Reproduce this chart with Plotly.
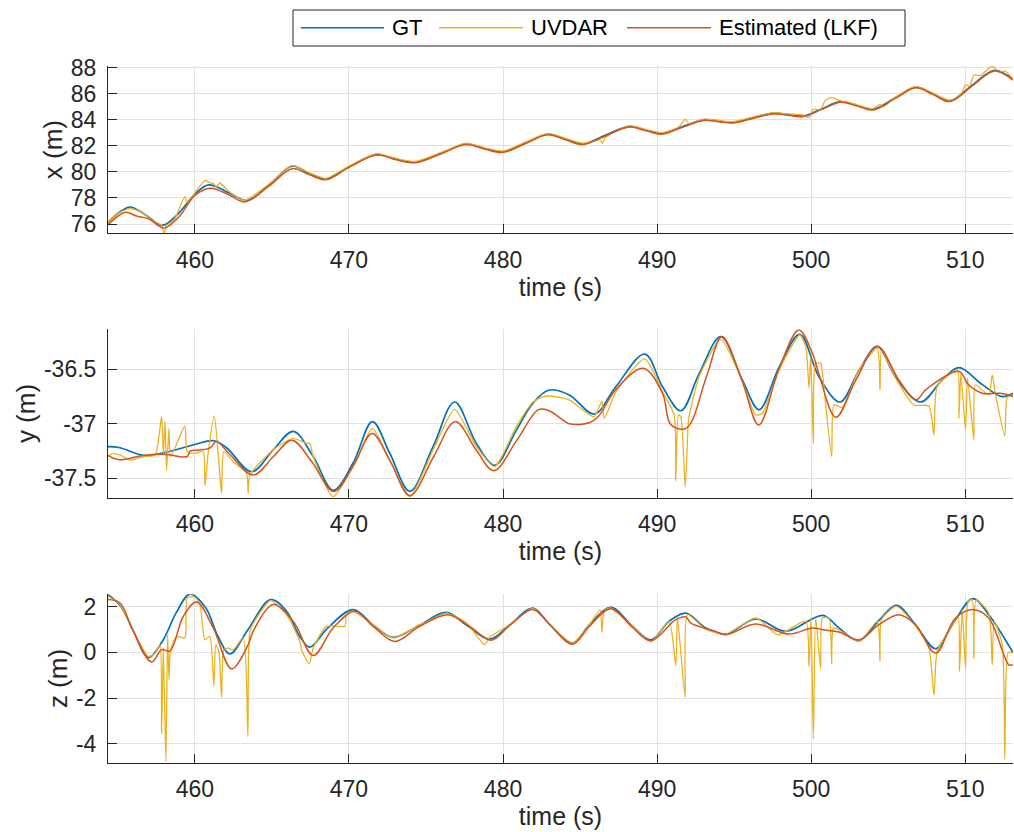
import plotly.graph_objects as go
from plotly.subplots import make_subplots

# ---------------- x (m) ----------------
t_gt_x = [454.36, 455.1, 455.8, 456.8, 457.9, 459.0, 460.0, 460.9, 462.2, 463.4, 464.9, 466.3, 467.4, 468.5,
          470.0, 471.8, 473.0, 474.3, 476.0, 477.6, 478.8, 480.0, 481.5, 482.9, 484.1, 485.2, 486.7, 488.2,
          489.3, 490.3, 491.7, 493.0, 494.0, 494.9, 496.2, 497.5, 498.5, 499.5, 500.7, 501.9, 503.0, 504.0,
          505.4, 506.8, 507.9, 509.0, 510.5, 511.9, 513.1]
gt_x = [76.1, 76.9, 77.3, 76.7, 75.9, 76.9, 78.3, 79.0, 78.4, 77.8, 79.1, 80.45, 79.9, 79.45,
        80.4, 81.35, 81.0, 80.75, 81.45, 82.15, 81.8, 81.55, 82.25, 82.9, 82.5, 82.15, 82.85, 83.5,
        83.2, 82.95, 83.5, 84.0, 83.9, 83.8, 84.15, 84.5, 84.4, 84.3, 84.85, 85.4, 85.1, 84.8,
        85.65, 86.5, 86.0, 85.45, 86.7, 87.8, 87.1]

t_uv_x = [454.36, 455.0, 455.8, 456.6, 457.2, 457.84, 458.0, 458.2, 458.5, 458.7, 459.35, 459.5, 460.0,
          460.65, 460.9, 461.2, 461.4, 461.6, 462.2, 463.2, 463.5, 464.9, 466.3, 467.4, 468.5, 470.0,
          471.8, 473.0, 474.3, 476.0, 477.6, 478.8, 480.0, 481.5, 482.9, 484.1, 485.2, 486.3, 486.46,
          486.6, 488.2, 489.3, 490.3, 491.4, 491.82, 492.1, 493.0, 494.0, 494.9, 496.2, 497.5, 498.5,
          499.5, 499.86, 500.14, 500.62, 500.9, 501.33, 501.9, 503.0, 504.0, 504.47, 504.7, 505.4,
          506.8, 507.9, 509.0, 509.7, 510.02, 510.3, 510.56, 511.0, 511.75, 512.2, 512.57, 513.1]
uv_x = [76.05, 76.8, 77.2, 76.85, 76.3, 75.9, 75.3, 75.95, 76.15, 76.4, 78.1, 77.6, 78.4,
        79.35, 79.2, 79.1, 78.85, 79.15, 78.5, 77.8, 77.95, 79.15, 80.5, 79.95, 79.5, 80.45,
        81.4, 81.05, 80.8, 81.5, 82.2, 81.85, 81.6, 82.3, 82.95, 82.55, 82.2, 82.45, 82.2,
        82.6, 83.55, 83.25, 83.0, 83.45, 84.04, 83.7, 84.05, 83.95, 83.85, 84.2, 84.55, 84.45,
        84.35, 84.17, 84.81, 84.8, 85.47, 85.7, 85.45, 85.15, 84.85, 85.19, 85.0, 85.7,
        86.55, 86.05, 85.5, 85.9, 86.67, 86.6, 87.44, 87.4, 88.13, 87.65, 87.75, 87.15]

t_est_x = [454.36, 455.5, 456.2, 457.0, 458.0, 459.0, 460.0, 461.0, 462.2, 463.2, 464.8, 466.3, 467.4, 468.5,
           470.0, 471.8, 473.0, 474.3, 476.0, 477.6, 478.8, 480.0, 481.5, 482.9, 484.1, 485.2, 486.7, 488.2,
           489.3, 490.3, 491.7, 493.0, 494.0, 494.9, 496.2, 497.5, 498.5, 499.5, 500.7, 501.9, 503.0, 504.0,
           505.4, 506.8, 507.9, 509.0, 510.5, 511.9, 513.1]
est_x = [75.95, 76.9, 76.62, 76.4, 75.7, 76.6, 78.2, 78.75, 78.25, 77.7, 78.9, 80.25, 79.8, 79.4,
         80.35, 81.3, 80.95, 80.7, 81.4, 82.1, 81.75, 81.5, 82.2, 82.85, 82.45, 82.1, 82.8, 83.45,
         83.15, 82.9, 83.45, 83.95, 83.85, 83.75, 84.1, 84.45, 84.35, 84.25, 84.8, 85.35, 85.05, 84.75,
         85.6, 86.45, 85.95, 85.4, 86.65, 87.75, 87.05]

# ---------------- y (m) ----------------
t_gt_y = [454.36, 455.14, 456.65, 458.16, 460.0, 461.19, 462.06, 463.68, 465.08, 466.38, 467.68, 468.97,
          470.27, 471.52, 472.65, 473.95, 475.46, 476.86, 478.27, 479.46, 480.86, 481.94, 483.0, 484.3,
          485.92, 487.32, 489.2, 490.35, 491.54, 492.73, 494.13, 495.54, 496.62, 497.92, 499.26, 500.51,
          501.87, 503.1, 504.29, 505.48, 507.1, 508.5, 509.59, 511.1, 512.4, 513.09]
gt_y = [-37.21, -37.22, -37.29, -37.26, -37.19, -37.155, -37.22, -37.44, -37.24, -37.07, -37.3, -37.61,
        -37.36, -36.98, -37.27, -37.62, -37.21, -36.80, -37.18, -37.38, -37.06, -36.81, -36.69, -36.735,
        -36.91, -36.66, -36.36, -36.66, -36.88, -36.54, -36.2, -36.6, -36.87, -36.48, -36.18, -36.57,
        -36.80, -36.51, -36.29, -36.57, -36.80, -36.6, -36.485, -36.64, -36.75, -36.72]

t_uv_y = [454.36, 454.71, 455.14, 455.79, 456.65, 457.41, 457.84, 457.95, 458.06, 458.16, 458.32, 458.42,
          459.35, 459.5, 460.0, 460.54, 460.65, 460.87, 461.26, 461.56, 461.73, 461.88, 462.49, 463.35,
          463.46, 463.57, 465.08, 466.38, 467.24, 467.46, 467.68, 468.97, 470.27, 471.52, 472.65, 473.95,
          475.46, 476.86, 478.27, 479.46, 480.86, 481.94, 482.59, 483.0, 484.3, 485.16, 485.92, 486.42,
          486.57, 487.32, 489.2, 490.35, 491.11, 491.21, 491.39, 491.54, 491.82, 492.04, 492.19, 492.73,
          494.13, 495.54, 496.4, 496.83, 497.92, 499.26, 499.65, 499.86, 499.97, 500.14, 500.29, 500.62,
          500.73, 501.33, 501.48, 502.02, 503.1, 504.29, 504.47, 504.57, 505.48, 506.67, 507.64, 507.97,
          508.18, 509.48, 509.59, 509.72, 510.02, 510.15, 510.56, 510.67, 511.53, 511.75, 511.97, 512.57,
          512.72, 513.09]
uv_y = [-37.295, -37.271, -37.286, -37.332, -37.301, -37.286, -36.934, -37.286, -36.98, -37.424, -37.041, -37.301,
        -37.02, -37.255, -37.271, -37.255, -37.57, -37.255, -36.928, -37.362, -37.638, -37.255, -37.347, -37.454,
        -37.638, -37.469, -37.24, -37.133, -37.179, -37.179, -37.301, -37.668, -37.393, -37.041, -37.332, -37.668,
        -37.24, -36.867, -37.21, -37.393, -37.026, -36.8, -36.751, -36.745, -36.781, -36.873, -36.934, -36.79,
        -36.95, -36.71, -36.405, -36.705, -36.919, -37.524, -36.919, -36.934, -37.576, -36.965, -36.858, -36.567,
        -36.225, -36.613, -36.919, -36.904, -36.506, -36.185, -36.292, -36.674, -36.384, -37.18, -36.445, -36.445,
        -36.537, -37.301, -36.827, -36.849, -36.506, -36.307, -36.69, -36.323, -36.583, -36.827, -36.836, -37.102,
        -36.659, -36.506, -36.95, -36.537, -37.06, -36.583, -37.148, -36.644, -36.735, -36.552, -36.735, -37.112,
        -36.757, -36.735]

t_est_y = [454.36, 455.1, 456.65, 458.0, 459.5, 459.7, 460.3, 461.0, 461.4, 462.2, 463.8, 465.1, 466.3, 467.6,
           469.0, 470.3, 471.5, 472.7, 473.95, 475.5, 476.9, 478.3, 479.4, 480.9, 482.3, 483.0, 483.65, 484.3,
           485.6, 486.2, 487.3, 489.1, 490.35, 490.9, 491.9, 493.2, 494.2, 495.5, 496.6, 497.9, 499.2, 500.1,
           500.5, 501.6, 502.9, 504.3, 505.7, 506.8, 507.5, 509.6, 510.2, 511.1, 512.3, 513.1]
est_y = [-37.29, -37.33, -37.29, -37.28, -37.3, -37.25, -37.24, -37.22, -37.16, -37.27, -37.47, -37.3, -37.15, -37.35,
         -37.62, -37.38, -37.09, -37.35, -37.66, -37.3, -36.98, -37.25, -37.43, -37.15, -36.87, -36.88, -36.94, -37.0,
         -36.99, -36.93, -36.69, -36.49, -36.72, -37.01, -37.04, -36.57, -36.2, -36.6, -37.01, -36.5, -36.14, -36.36,
         -36.54, -36.94, -36.6, -36.29, -36.6, -36.78, -36.68, -36.52, -36.64, -36.72, -36.72, -36.75]

# ---------------- z (m) ----------------
t_gt_z = [454.36, 455.2, 456.0, 456.98, 457.9, 458.8, 459.68, 460.7, 461.5, 462.27, 463.4, 464.91, 465.95,
          466.8, 467.46, 468.6, 470.27, 471.57, 472.86, 474.6, 476.32, 477.62, 479.13, 480.43, 481.94, 483.0,
          484.5, 485.6, 487.0, 488.4, 489.6, 490.78, 491.86, 493.16, 494.46, 496.4, 498.35, 500.77, 501.8,
          503.1, 504.4, 505.53, 506.78, 508.08, 509.16, 510.5, 511.53, 513.09]
gt_z = [2.53, 2.0, 0.95, -0.22, 0.5, 1.75, 2.55, 1.95, 0.7, -0.07, 0.95, 2.31, 1.8,
        0.7, 0.23, 1.05, 1.87, 1.2, 0.66, 1.2, 1.75, 1.2, 0.58, 1.2, 1.94, 1.24,
        0.41, 1.2, 1.97, 1.15, 0.55, 1.36, 1.72, 1.07, 0.80, 1.46, 0.92, 1.62, 1.07,
        0.51, 1.4, 2.06, 1.2, 0.16, 1.2, 2.35, 1.65, 0.0]

t_uv_z = [454.36, 455.14, 456.0, 456.98, 457.41, 457.73, 457.84, 457.95, 458.12, 458.23, 458.32, 458.42,
          458.81, 459.35, 459.5, 460.0, 460.33, 460.65, 460.97, 461.23, 461.36, 461.56, 461.73, 461.88,
          462.16, 462.49, 463.13, 463.44, 463.57, 464.0, 464.91, 465.95, 466.81, 466.92, 467.42, 467.68,
          468.54, 469.73, 469.84, 470.27, 471.57, 472.86, 474.59, 474.92, 476.32, 477.62, 478.81, 479.13,
          480.43, 481.94, 483.0, 484.51, 485.6, 486.3, 486.42, 486.57, 487.0, 488.4, 489.6, 490.78, 491.21,
          491.32, 491.82, 491.97, 493.16, 494.46, 496.4, 497.8, 498.35, 499.65, 499.86, 499.99, 500.14,
          500.29, 500.62, 500.73, 501.16, 501.33, 501.48, 503.1, 504.29, 504.47, 504.57, 505.53, 506.78,
          507.64, 507.97, 508.18, 509.16, 509.54, 509.63, 509.8, 510.02, 510.19, 510.45, 510.56, 510.71,
          511.53, 511.75, 511.88, 512.4, 512.57, 512.79, 513.09]
uv_z = [2.45, 2.09, 0.95, -0.18, -0.03, 0.34, -3.56, 0.19, -4.77, 0.77, -1.2, 0.12,
        0.7, 0.63, 2.38, 2.41, 2.09, 0.55, 0.7, -1.46, 0.34, 0.04, -1.97, 0.12,
        0.19, 0.12, 0.63, -3.68, 0.92, 1.5, 2.26, 1.65, 0.48, 0.12, -0.5, 0.19,
        1.14, 1.14, 1.65, 1.8, 1.21, 0.63, 1.21, 1.29, 1.72, 1.29, 0.34, 0.66,
        1.21, 1.92, 1.24, 0.41, 1.21, 1.85, 0.88, 1.82, 1.94, 1.14, 0.48, 1.36, -0.58,
        1.51, -1.97, 1.65, 1.0, 0.8, 1.51, 0.77, 0.92, 1.36, -0.61, 1.51, -3.78,
        1.51, -0.73, 1.51, 1.51, -0.51, 1.07, 0.48, 1.36, -0.39, 1.43, 2.01, 1.14,
        0.19, -1.88, 0.04, 1.21, 1.58, -0.83, 1.87, -0.69, 2.23, 2.3, -0.28, 2.3,
        1.72, -0.54, 1.36, 0.34, -4.66, 0.0, -0.03]

t_est_z = [454.36, 455.14, 456.0, 457.19, 457.84, 458.38, 459.25, 460.11, 461.19, 462.38, 463.46, 463.78,
           465.08, 466.38, 467.68, 468.97, 470.38, 471.57, 472.97, 474.59, 476.43, 477.83, 479.24, 480.43,
           481.94, 483.0, 484.51, 485.6, 487.0, 488.4, 489.6, 491.21, 491.86, 492.19, 493.81, 494.46, 496.4,
           498.56, 500.08, 500.77, 501.8, 503.1, 504.4, 505.7, 506.78, 508.08, 509.37, 510.56, 511.53,
           512.83, 513.09]
est_z = [2.31, 2.16, 0.92, -0.42, 0.12, 0.06, 1.58, 2.2, 1.07, -0.72, 0.34, 0.92,
         2.09, 1.36, -0.13, 1.07, 1.8, 1.14, 0.48, 1.14, 1.65, 1.14, 0.53, 1.18,
         1.87, 1.24, 0.36, 1.14, 1.91, 1.09, 0.51, 1.43, 1.55, 1.28, 0.92, 0.77, 1.24,
         0.8, 1.07, 0.99, 0.89, 0.55, 1.21, 1.65, 1.21, -0.03, 1.5, 1.87, 1.5,
         -0.54, -0.54]

# ---------------- ticks / labels ----------------
x_ticks = [460, 470, 480, 490, 500, 510]
y_tick_vals = [[76, 78, 80, 82, 84, 86, 88], [-37.5, -37, -36.5], [-4, -2, 0, 2]]
y_tick_text = [["76", "78", "80", "82", "84", "86", "88"], ["-37.5", "-37", "-36.5"], ["-4", "-2", "0", "2"]]
y_titles = ["x (m)", "y (m)", "z (m)"]
x_title = "time (s)"
series_names = ["GT", "UVDAR", "Estimated (LKF)"]

C_GT = "#0072BD"
C_UV = "#EDB120"
C_EST = "#D95319"
colors = [C_GT, C_UV, C_EST]
FONT = "Liberation Sans, Arial, sans-serif"
AX = "#262626"
GRID = "#e1e1e1"

fig = make_subplots(rows=3, cols=1)

panels = [
    (t_gt_x, gt_x, t_uv_x, uv_x, t_est_x, est_x),
    (t_gt_y, gt_y, t_uv_y, uv_y, t_est_y, est_y),
    (t_gt_z, gt_z, t_uv_z, uv_z, t_est_z, est_z),
]
for i, (tg, g, tu, u, te, e) in enumerate(panels):
    row = i + 1
    fig.add_trace(go.Scatter(x=tg, y=g, mode="lines", name=series_names[0], showlegend=False,
                             line=dict(color=C_GT, width=1.7, shape="spline", smoothing=1.0)), row=row, col=1)
    fig.add_trace(go.Scatter(x=tu, y=u, mode="lines", name=series_names[1], showlegend=False,
                             line=dict(color=C_UV, width=1.3, shape="spline", smoothing=0.6)), row=row, col=1)
    fig.add_trace(go.Scatter(x=te, y=e, mode="lines", name=series_names[2], showlegend=False,
                             line=dict(color=C_EST, width=1.5, shape="spline", smoothing=1.0)), row=row, col=1)

domains = [[0.7196, 0.9207], [0.4018, 0.6042], [0.0833, 0.2857]]
y_ranges = [[75.29, 88.13], [-37.678, -36.133], [-4.82, 2.54]]

for i in range(3):
    xa = "xaxis" if i == 0 else f"xaxis{i+1}"
    ya = "yaxis" if i == 0 else f"yaxis{i+1}"
    fig.layout[xa].update(
        range=[454.36, 513.1], tickvals=x_ticks, ticks="inside", ticklen=9, tickcolor=AX,
        showline=True, linecolor=AX, linewidth=1, showgrid=True, gridcolor=GRID, zeroline=False,
        automargin=False,
        tickfont=dict(size=23, color=AX, family=FONT), ticklabelstandoff=6,
        title=dict(text=x_title, font=dict(size=25, color=AX, family=FONT), standoff=6),
    )
    fig.layout[ya].update(
        domain=domains[i], range=y_ranges[i], tickvals=y_tick_vals[i], ticktext=y_tick_text[i],
        ticks="inside", ticklen=9, tickcolor=AX,
        showline=True, linecolor=AX, linewidth=1, showgrid=True, gridcolor=GRID, zeroline=False,
        automargin=False,
        tickfont=dict(size=23, color=AX, family=FONT), ticklabelstandoff=6,
        title=dict(text=y_titles[i], font=dict(size=26, color=AX, family=FONT), standoff=0),
    )

# legend box (drawn in paper coordinates, above the first panel)
PW = 905.0
PH = 832.0
def px(xpix):
    return (xpix - 108) / PW
def py(ypix):
    return 1 - ypix / PH

fig.add_shape(type="rect", xref="paper", yref="paper", x0=px(293), x1=px(905), y0=py(46), y1=py(10),
              line=dict(color=AX, width=1), fillcolor="white", layer="above")
leg_line_x = [(301, 384), (439, 523), (627, 711)]
leg_text_x = [390, 529, 717]
for k in range(3):
    fig.add_shape(type="line", xref="paper", yref="paper", x0=px(leg_line_x[k][0]), x1=px(leg_line_x[k][1]),
                  y0=py(27.7), y1=py(27.7), line=dict(color=colors[k], width=1.5), layer="above")
    fig.add_annotation(text=series_names[k], xref="paper", yref="paper", x=px(leg_text_x[k]), y=py(28),
                       xanchor="left", yanchor="middle", showarrow=False,
                       font=dict(size=22, family=FONT, color="#000000"))

fig.update_layout(
    width=1014, height=832,
    margin=dict(l=108, r=1, t=0, b=0, autoexpand=False),
    plot_bgcolor="white", paper_bgcolor="white",
    font=dict(family=FONT, color=AX),
    showlegend=False,
)

fig.write_html("out.html")
